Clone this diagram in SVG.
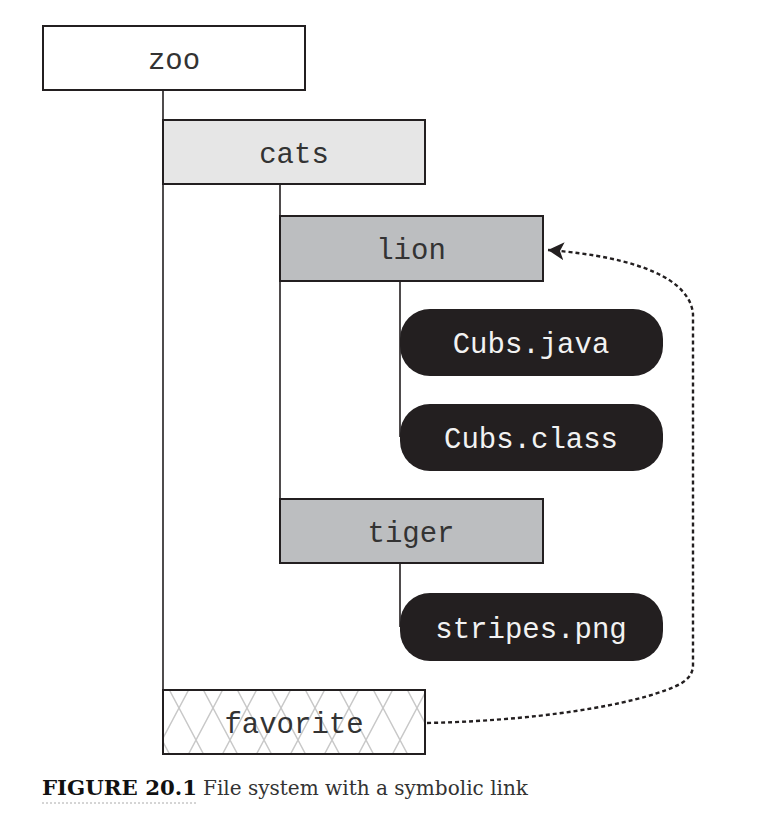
<svg xmlns="http://www.w3.org/2000/svg" width="775" height="819" viewBox="0 0 775 819">
<style>
  .box { stroke: #231f20; stroke-width: 2; }
  .dir { font-family: "Liberation Mono", "DejaVu Sans Mono", monospace; font-size: 29px; fill: #333; text-anchor: middle; }
  .file { font-family: "Liberation Mono", "DejaVu Sans Mono", monospace; font-size: 29px; fill: #f2f2f2; text-anchor: middle; }
  .tree { stroke: #231f20; stroke-width: 1.6; fill: none; }
  .link { stroke: #231f20; stroke-width: 2.4; fill: none; stroke-dasharray: 4 3; }
</style>
<defs>
  <pattern id="hatch" patternUnits="userSpaceOnUse" x="179" y="708" width="34" height="64">
    <path d="M0,0 L34,64 M34,0 L0,64" stroke="#c8c8c8" stroke-width="1.5" fill="none"/>
  </pattern>
  <marker id="arrow" markerUnits="userSpaceOnUse" markerWidth="20" markerHeight="20" refX="16" refY="9" orient="auto">
    <path d="M16,9 L0,0 L4,9 L0,18 Z" fill="#231f20" stroke="none"/>
  </marker>
</defs>
<rect width="775" height="819" fill="#ffffff"/>

<g id="connectors">
  <line class="tree" x1="163" y1="90" x2="163" y2="722"/>
  <line class="tree" x1="280" y1="184" x2="280" y2="531"/>
  <line class="tree" x1="400" y1="281" x2="400" y2="437"/>
  <line class="tree" x1="400" y1="563" x2="400" y2="627"/>
  <path class="link" d="M427,723 C560,720 650,700 680,684 Q693,677 693,665 L693,314 C690,280 640,257 548,250" marker-end="url(#arrow)"/>
</g>

<g id="zoo">
  <rect class="box" x="43" y="26" width="262" height="64" fill="#ffffff"/>
  <text class="dir" x="174" y="69">zoo</text>
</g>
<g id="cats">
  <rect class="box" x="163" y="120" width="262" height="64" fill="#e6e6e6"/>
  <text class="dir" x="294" y="163">cats</text>
</g>
<g id="lion">
  <rect class="box" x="280" y="216" width="263" height="65" fill="#bcbec0"/>
  <text class="dir" x="411" y="259">lion</text>
</g>
<g id="cubs-java">
  <rect x="400" y="309" width="263" height="67" rx="30" ry="30" fill="#231f20"/>
  <text class="file" x="531" y="353">Cubs.java</text>
</g>
<g id="cubs-class">
  <rect x="400" y="404" width="263" height="67" rx="30" ry="30" fill="#231f20"/>
  <text class="file" x="531" y="448">Cubs.class</text>
</g>
<g id="tiger">
  <rect class="box" x="280" y="499" width="263" height="64" fill="#bcbec0"/>
  <text class="dir" x="411" y="542">tiger</text>
</g>
<g id="stripes">
  <rect x="400" y="593" width="263" height="68" rx="30" ry="30" fill="#231f20"/>
  <text class="file" x="531" y="638">stripes.png</text>
</g>
<g id="favorite">
  <rect x="163" y="690" width="262" height="64" fill="#ffffff"/>
  <rect class="box" x="163" y="690" width="262" height="64" fill="url(#hatch)"/>
  <text class="dir" x="294" y="733">favorite</text>
</g>

<g id="caption">
  <text x="42" y="795" font-family="'DejaVu Serif', 'Liberation Serif', serif" font-weight="bold" font-size="21" fill="#111" textLength="155" lengthAdjust="spacingAndGlyphs">FIGURE 20.1</text>
  <text x="203" y="795" font-family="'DejaVu Serif', 'Liberation Serif', serif" font-size="21" fill="#333" textLength="325" lengthAdjust="spacingAndGlyphs">File system with a symbolic link</text>
  <line x1="42" y1="803" x2="197" y2="803" stroke="#aaaaaa" stroke-width="1" stroke-dasharray="2 2"/>
</g>
</svg>
